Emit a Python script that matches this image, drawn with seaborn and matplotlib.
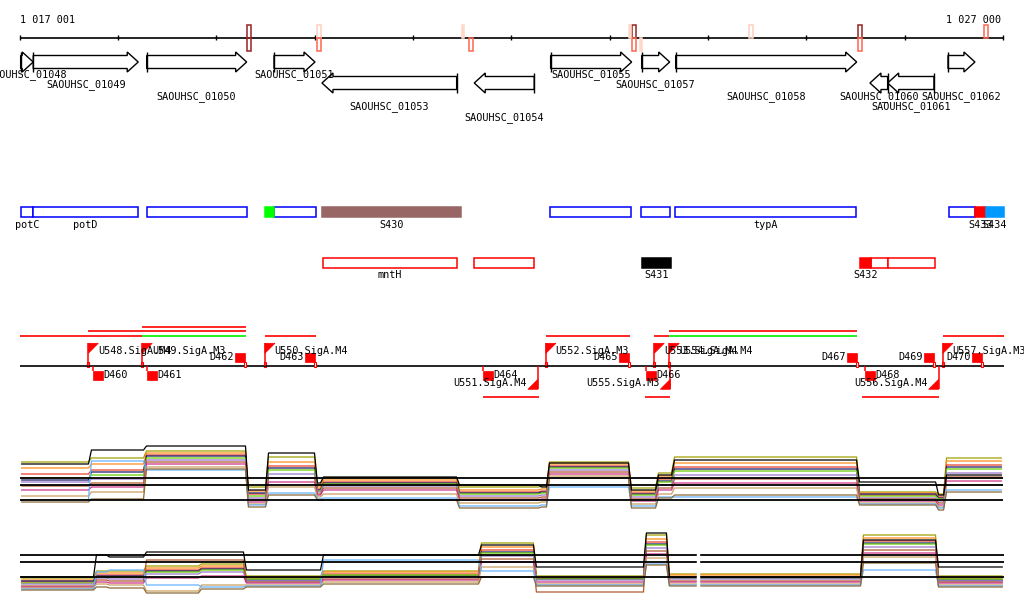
import numpy as np
import pandas as pd
import matplotlib
matplotlib.use("Agg")
import matplotlib.pyplot as plt
from matplotlib.patches import Polygon, Rectangle
import seaborn as sns

sns.set_theme(style="white")
plt.rcParams["font.family"] = ["DejaVu Sans Mono", "DejaVu Sans"]
plt.rcParams["text.color"] = "black"

# escala: pares de bases por pixel da figura
BP_PX = 10.172
X_LEFT, X_RIGHT = 1016798, 1027214
RULER_START, RULER_END = 1017001, 1027000
ruler_ticks = [1017001, 1018000, 1019000, 1020000, 1021000, 1022000,
               1023000, 1024000, 1025000, 1026000, 1027000]

# marcas coloridas na régua (posição, lado, cor, preenchida)
mark_pos = [1019310, 1019310, 1020022, 1020022, 1021494, 1021568,
            1023226, 1023226, 1023196, 1023307, 1024416, 1025525, 1025525, 1026807]
mark_side = ["+", "-", "+", "-", "+", "-", "+", "-", "+", "-", "+", "+", "-", "+"]
mark_color = ["#992222", "#992222", "#ffcfc0", "#ff6650", "#ffd8c8", "#ff6650",
              "#992222", "#ff6650", "#ffd8c8", "#ffd8c8", "#ffcfc0", "#992222", "#ff6650", "#ff6650"]
mark_filled = [False, False, False, False, True, False,
               False, False, True, True, False, False, False, False]

# genes
gene_names = ["SAOUHSC_01048", "SAOUHSC_01049", "SAOUHSC_01050", "SAOUHSC_01051",
              "SAOUHSC_01053", "SAOUHSC_01054", "SAOUHSC_01055", "SAOUHSC_01057",
              "SAOUHSC_01058", "SAOUHSC_01060", "SAOUHSC_01061", "SAOUHSC_01062"]
gene_start = [1017008, 1017136, 1018290, 1019585, 1020073, 1021622,
              1022399, 1023325, 1023671, 1025647, 1025827, 1026441]
gene_end = [1017136, 1018204, 1019307, 1020002, 1021443, 1022232,
            1023223, 1023610, 1025512, 1025827, 1026298, 1026715]
gene_strand = ["+", "+", "+", "+", "-", "-", "+", "+", "+", "-", "-", "+"]
gene_label_row = [0, 1, 2, 0, 3, 4, 0, 1, 2, 2, 3, 2]

# anotações (linha 1 e linha 2)
ann1_names = ["potC", "potD", "", "", "", "S430", "", "", "typA", "", "S433", "S434"]
ann1_start = [1017008, 1017136, 1018290, 1019493, 1019585, 1020070,
              1022395, 1023321, 1023667, 1026448, 1026718, 1026827]
ann1_end = [1017136, 1018204, 1019307, 1019585, 1020009, 1021487,
            1023219, 1023610, 1025508, 1026718, 1026827, 1027007]
ann1_color = ["#0000ff", "#0000ff", "#0000ff", "#00ff00", "#0000ff", "#996666",
              "#0000ff", "#0000ff", "#0000ff", "#0000ff", "#ff0000", "#0099ff"]
ann1_filled = [False, False, False, True, False, True,
               False, False, False, False, True, True]

ann2_names = ["mntH", "", "S431", "S432", "", ""]
ann2_start = [1020086, 1021622, 1023328, 1025548, 1025657, 1025827]
ann2_end = [1021443, 1022232, 1023623, 1025657, 1025827, 1026305]
ann2_color = ["#ff0000", "#ff0000", "#000000", "#ff0000", "#ff0000", "#ff0000"]
ann2_filled = [False, False, True, True, False, False]

# promotores
prom_names = ["U548.SigA.M4", "U549.SigA.M3", "U550.SigA.M4", "U552.SigA.M3",
              "U553.SigA.M4", "U554.SigA.M4", "U557.SigA.M3",
              "U551.SigA.M4", "U555.SigA.M3", "U556.SigA.M4"]
prom_pos = [1017696, 1018245, 1019493, 1022351, 1023453, 1023606, 1026390,
            1022270, 1023616, 1026346]
prom_strand = ["+", "+", "+", "+", "+", "+", "+", "-", "-", "-"]

# terminadores
term_names = ["D462", "D463", "D465", "D467", "D469", "D470",
              "D460", "D461", "D464", "D466", "D468"]
term_pos = [1019289, 1020002, 1023193, 1025515, 1026295, 1026786,
            1017747, 1018296, 1021714, 1023369, 1025593]
term_strand = ["+", "+", "+", "+", "+", "+", "-", "-", "-", "-", "-"]

# transcritos (início, fim, nível, cor)
tx_start = [1017001, 1018245, 1017696, 1018245, 1019493, 1022351, 1023453,
            1023606, 1023606, 1026390, 1021714, 1023362, 1025566]
tx_end = [1018245, 1019297, 1019297, 1019297, 1020009, 1023203, 1023606,
          1025515, 1025515, 1027008, 1022277, 1023616, 1026346]
tx_level = [0, 0, 1, 2, 0, 0, 0, 0, 1, 0, -1, -1, -1]
tx_color = ["#ff0000", "#00ee00", "#ff0000", "#ff0000", "#ff0000", "#ff0000", "#ff0000",
            "#00ee00", "#ff0000", "#ff0000", "#ff0000", "#ff0000", "#ff0000"]

# expressão: limiares e perfis por segmento
thresholds = [2.0, 3.5, 4.2]

track1_edges = [1017001, 1017713, 1018273, 1019310, 1019514, 1020012, 1020073, 1021457,
                1022291, 1022372, 1023206, 1023481, 1023644, 1025526, 1026330, 1026411, 1027001]
track1 = {
    "olive":     [5.8, 6.2, 6.9, 3.3, 6.3, 3.5, 4.2, 3.3, 3.4, 5.8, 3.2, 4.7, 6.3, 2.8, 2.6, 6.2],
    "orange":    [5.2, 5.6, 6.7, 2.9, 5.8, 3.3, 4.0, 3.0, 3.1, 5.6, 2.9, 4.4, 5.7, 2.7, 2.5, 5.9],
    "red":       [4.6, 5.0, 6.5, 2.6, 5.4, 3.1, 3.8, 2.8, 2.9, 5.4, 2.7, 4.1, 5.3, 2.5, 2.3, 5.5],
    "navy":      [4.0, 4.8, 6.4, 2.7, 5.2, 3.0, 3.7, 2.7, 2.8, 5.3, 2.6, 3.9, 5.1, 2.6, 2.2, 5.3],
    "green":     [4.2, 4.5, 6.2, 2.4, 5.0, 2.9, 3.6, 2.6, 2.7, 5.2, 2.5, 3.8, 4.9, 2.4, 2.1, 5.1],
    "purple":    [3.8, 4.1, 6.0, 2.2, 4.6, 2.8, 3.4, 2.4, 2.5, 5.0, 2.3, 3.5, 4.5, 2.2, 1.9, 4.7],
    "brown":     [3.4, 3.7, 5.8, 2.0, 4.2, 2.6, 3.2, 2.2, 2.3, 4.8, 2.1, 3.2, 4.1, 2.1, 1.7, 4.3],
    "magenta":   [3.0, 3.3, 5.6, 1.8, 3.8, 2.5, 3.0, 2.0, 2.1, 4.6, 1.9, 3.0, 3.7, 1.9, 1.5, 3.9],
    "tan":       [2.4, 2.8, 5.3, 1.6, 3.3, 2.3, 2.6, 1.7, 1.8, 4.4, 1.6, 2.6, 3.2, 1.7, 1.3, 3.5],
    "lightblue": [2.0, 5.9, 5.0, 1.5, 2.7, 2.1, 2.2, 1.4, 1.5, 3.3, 1.4, 2.3, 2.3, 1.6, 1.2, 3.0],
    "darkbrown": [1.8, 2.1, 5.1, 1.3, 2.5, 2.0, 2.0, 1.2, 1.3, 4.2, 1.2, 2.2, 2.5, 1.5, 1.0, 2.8],
    "black":     [5.6, 7.0, 7.4, 3.0, 6.7, 3.7, 4.3, 3.5, 3.3, 5.7, 3.0, 4.5, 6.0, 3.8, 2.5, 4.5],
}

track2_edges = [1017001, 1017764, 1017896, 1018273, 1018832, 1019289, 1020073,
                1021680, 1022239, 1023358, 1023592, 1025566, 1026329, 1027010]
track2_gap = (1023887, 1023907)
track2 = {
    "olive":     [1.9, 2.6, 2.6, 3.1, 3.3, 2.1, 2.6, 5.4, 2.1, 6.2, 2.3, 6.2, 2.1],
    "orange":    [1.7, 2.4, 2.4, 2.9, 3.1, 2.0, 2.5, 5.0, 2.0, 5.8, 2.2, 5.9, 2.0],
    "red":       [1.5, 2.2, 2.2, 2.7, 2.9, 1.9, 2.3, 4.7, 1.9, 5.5, 2.0, 5.6, 1.9],
    "navy":      [1.6, 2.1, 2.1, 2.6, 2.8, 1.7, 2.1, 4.5, 1.8, 5.3, 1.9, 5.4, 1.7],
    "green":     [1.4, 2.0, 2.0, 2.5, 2.7, 1.8, 2.2, 4.4, 1.8, 5.2, 1.9, 5.3, 1.8],
    "purple":    [1.3, 1.9, 1.8, 2.3, 2.5, 1.6, 2.0, 4.1, 1.7, 4.9, 1.8, 5.0, 1.6],
    "brown":     [1.1, 1.7, 1.6, 3.7, 3.7, 1.5, 1.8, 3.8, 0.5, 4.6, 1.6, 4.7, 1.5],
    "magenta":   [1.0, 1.5, 1.4, 1.9, 2.1, 1.4, 1.7, 3.5, 1.5, 4.3, 1.5, 4.4, 1.4],
    "tan":       [0.9, 1.3, 1.2, 0.6, 1.2, 1.2, 1.5, 3.0, 1.3, 3.9, 1.3, 4.0, 1.2],
    "lightblue": [0.8, 2.5, 2.7, 1.2, 1.0, 1.1, 3.7, 2.6, 1.2, 3.3, 1.2, 2.7, 1.1],
    "darkbrown": [0.7, 1.0, 0.9, 0.4, 0.8, 1.0, 1.3, 2.0, 1.1, 3.2, 1.1, 3.4, 1.0],
    "black":     [2.0, 4.2, 4.0, 4.5, 4.5, 2.7, 4.2, 5.2, 3.0, 6.4, 2.0, 5.7, 3.0],
}

line_colors = {
    "olive": "#a0a000", "orange": "#ff8c1a", "red": "#e8402a", "navy": "#1a1a66",
    "green": "#66cc00", "purple": "#9977cc", "brown": "#b05a30", "magenta": "#cc3388",
    "tan": "#c8a060", "lightblue": "#66b3ff", "darkbrown": "#8b6b3a", "black": "#000000",
}

FONT = 7.3
fig = plt.figure(figsize=(10.24, 6.11), dpi=100)
ax = fig.add_axes([0, 0, 1, 1])
ax.set_xlim(X_LEFT, X_RIGHT)
ax.set_ylim(611, 0)
ax.axis("off")

# régua
RULER_Y = 37.7
ax.hlines(RULER_Y, RULER_START, RULER_END, color="black", lw=1.2)
ax.vlines(ruler_ticks, RULER_Y - 2.5, RULER_Y + 2.5, color="black", lw=1)
ax.text(RULER_START, 20, "1 017 001", fontsize=FONT, ha="left", va="center")
ax.text(RULER_END - 2 * BP_PX, 20, "1 027 000", fontsize=FONT, ha="right", va="center")
for pos, side, col, filled in zip(mark_pos, mark_side, mark_color, mark_filled):
    w = (2 if filled else 4.5) * BP_PX
    y0, h = (RULER_Y - 12.5, 12.5) if side == "+" else (RULER_Y, 13.5)
    ax.add_patch(Rectangle((pos, y0), w, h, facecolor=col if filled else "none",
                           edgecolor=col, lw=1.1, zorder=3))

# genes
head = 11 * BP_PX
label_rows = [75, 85, 97, 107, 118]
for name, s, e, strand, row in zip(gene_names, gene_start, gene_end, gene_strand, gene_label_row):
    yc = 62 if strand == "+" else 83
    if strand == "+":
        h = max(s, e - head)
        pts = [(s, yc - 6.5), (h, yc - 6.5), (h, yc - 10), (e, yc), (h, yc + 10), (h, yc + 6.5), (s, yc + 6.5)]
        tail = s
    else:
        h = min(e, s + head)
        pts = [(e, yc - 6.5), (h, yc - 6.5), (h, yc - 10), (s, yc), (h, yc + 10), (h, yc + 6.5), (e, yc + 6.5)]
        tail = e
    ax.add_patch(Polygon(pts, closed=True, facecolor="white", edgecolor="black", lw=1, zorder=2))
    ax.vlines(tail, yc - 10, yc + 10, color="black", lw=1, zorder=3)
    ax.text((s + e) / 2, label_rows[row], name, fontsize=FONT, ha="center", va="center", zorder=4)

# anotações
def draw_boxes(names, starts, ends, colors, filled, y0, ylab):
    for name, s, e, col, f in zip(names, starts, ends, colors, filled):
        ax.add_patch(Rectangle((s, y0), e - s, 10, facecolor=col if f else "white",
                               edgecolor=col, lw=1.1, zorder=2 + f))
        if name:
            ax.text((s + e) / 2, ylab, name, fontsize=FONT, ha="center", va="center")

draw_boxes(ann1_names, ann1_start, ann1_end, ann1_color, ann1_filled, 207.3, 224.5)
draw_boxes(ann2_names, ann2_start, ann2_end, ann2_color, ann2_filled, 258.3, 275.5)

# promotores, terminadores e transcritos
BASE = 366
ax.hlines(BASE, RULER_START, 1027008, color="black", lw=1.2)
tx_rows = {0: 336, 1: 331.3, 2: 327, -1: 397.3}
for s, e, lev, col in zip(tx_start, tx_end, tx_level, tx_color):
    ax.hlines(tx_rows[lev], s, e, color=col, lw=1.2)

for name, pos, strand in zip(prom_names, prom_pos, prom_strand):
    if strand == "+":
        ax.vlines(pos, 343.3, BASE, color="red", lw=1.1)
        ax.add_patch(Polygon([(pos, 343.3), (pos + 10 * BP_PX, 343.3), (pos, 353.3)],
                             closed=True, facecolor="red", edgecolor="red", lw=0.5))
        ax.add_patch(Rectangle((pos - 1 * BP_PX, BASE - 4), 2 * BP_PX, 4.5,
                               facecolor="none", edgecolor="red", lw=0.8))
        ax.text(pos + 9.5 * BP_PX, 350.7, name, fontsize=FONT, ha="left", va="center")
    else:
        ax.vlines(pos, BASE, 389.3, color="red", lw=1.1)
        ax.add_patch(Polygon([(pos, 389.3), (pos - 10 * BP_PX, 389.3), (pos, 379.3)],
                             closed=True, facecolor="red", edgecolor="red", lw=0.5))
        ax.text(pos - 11 * BP_PX, 383.3, name, fontsize=FONT, ha="right", va="center")

for name, pos, strand in zip(term_names, term_pos, term_strand):
    if strand == "+":
        ax.vlines(pos, 361.7, BASE, color="red", lw=1.1)
        ax.add_patch(Rectangle((pos - 10 * BP_PX, 353.3), 10 * BP_PX, 8.4, facecolor="red",
                               edgecolor="red", lw=0.5))
        ax.add_patch(Rectangle((pos - 1 * BP_PX, BASE - 4), 2.5 * BP_PX, 4.5,
                               facecolor="white", edgecolor="red", lw=0.8, zorder=3))
        ax.text(pos - 11 * BP_PX, 357.3, name, fontsize=FONT, ha="right", va="center")
    else:
        ax.vlines(pos, BASE, 370.7, color="red", lw=1.1)
        ax.add_patch(Rectangle((pos, 370.7), 10 * BP_PX, 9.3, facecolor="red",
                               edgecolor="red", lw=0.5))
        ax.text(pos + 10.5 * BP_PX, 375.3, name, fontsize=FONT, ha="left", va="center")


# trilhas de expressão
def track_frame(edges, levels):
    rows = []
    for sample, vals in levels.items():
        for i, v in enumerate(vals):
            rows.append((sample, edges[i] + 15, v))
            rows.append((sample, edges[i + 1] - 15, v))
    return pd.DataFrame(rows, columns=["sample", "pos", "level"])


def draw_track(bottom_px, edges, levels, gap=None):
    axt = fig.add_axes([0, (611 - bottom_px) / 611, 1, 90 / 611])
    axt.patch.set_alpha(0)
    df = track_frame(edges, levels)
    sns.lineplot(data=df, x="pos", y="level", hue="sample", palette=line_colors,
                 hue_order=list(levels.keys()), estimator=None, sort=False,
                 legend=False, lw=0.9, ax=axt)
    axt.hlines(thresholds, RULER_START, edges[-1], color="black", lw=1.3)
    if gap is not None:
        axt.axvspan(gap[0], gap[1], color="white", zorder=5)
    axt.set_xlim(X_LEFT, X_RIGHT)
    axt.set_ylim(0, 9)
    axt.axis("off")
    return axt


draw_track(520, track1_edges, track1)
draw_track(597, track2_edges, track2, gap=track2_gap)

plt.savefig("out.png", dpi=100)
plt.close()
